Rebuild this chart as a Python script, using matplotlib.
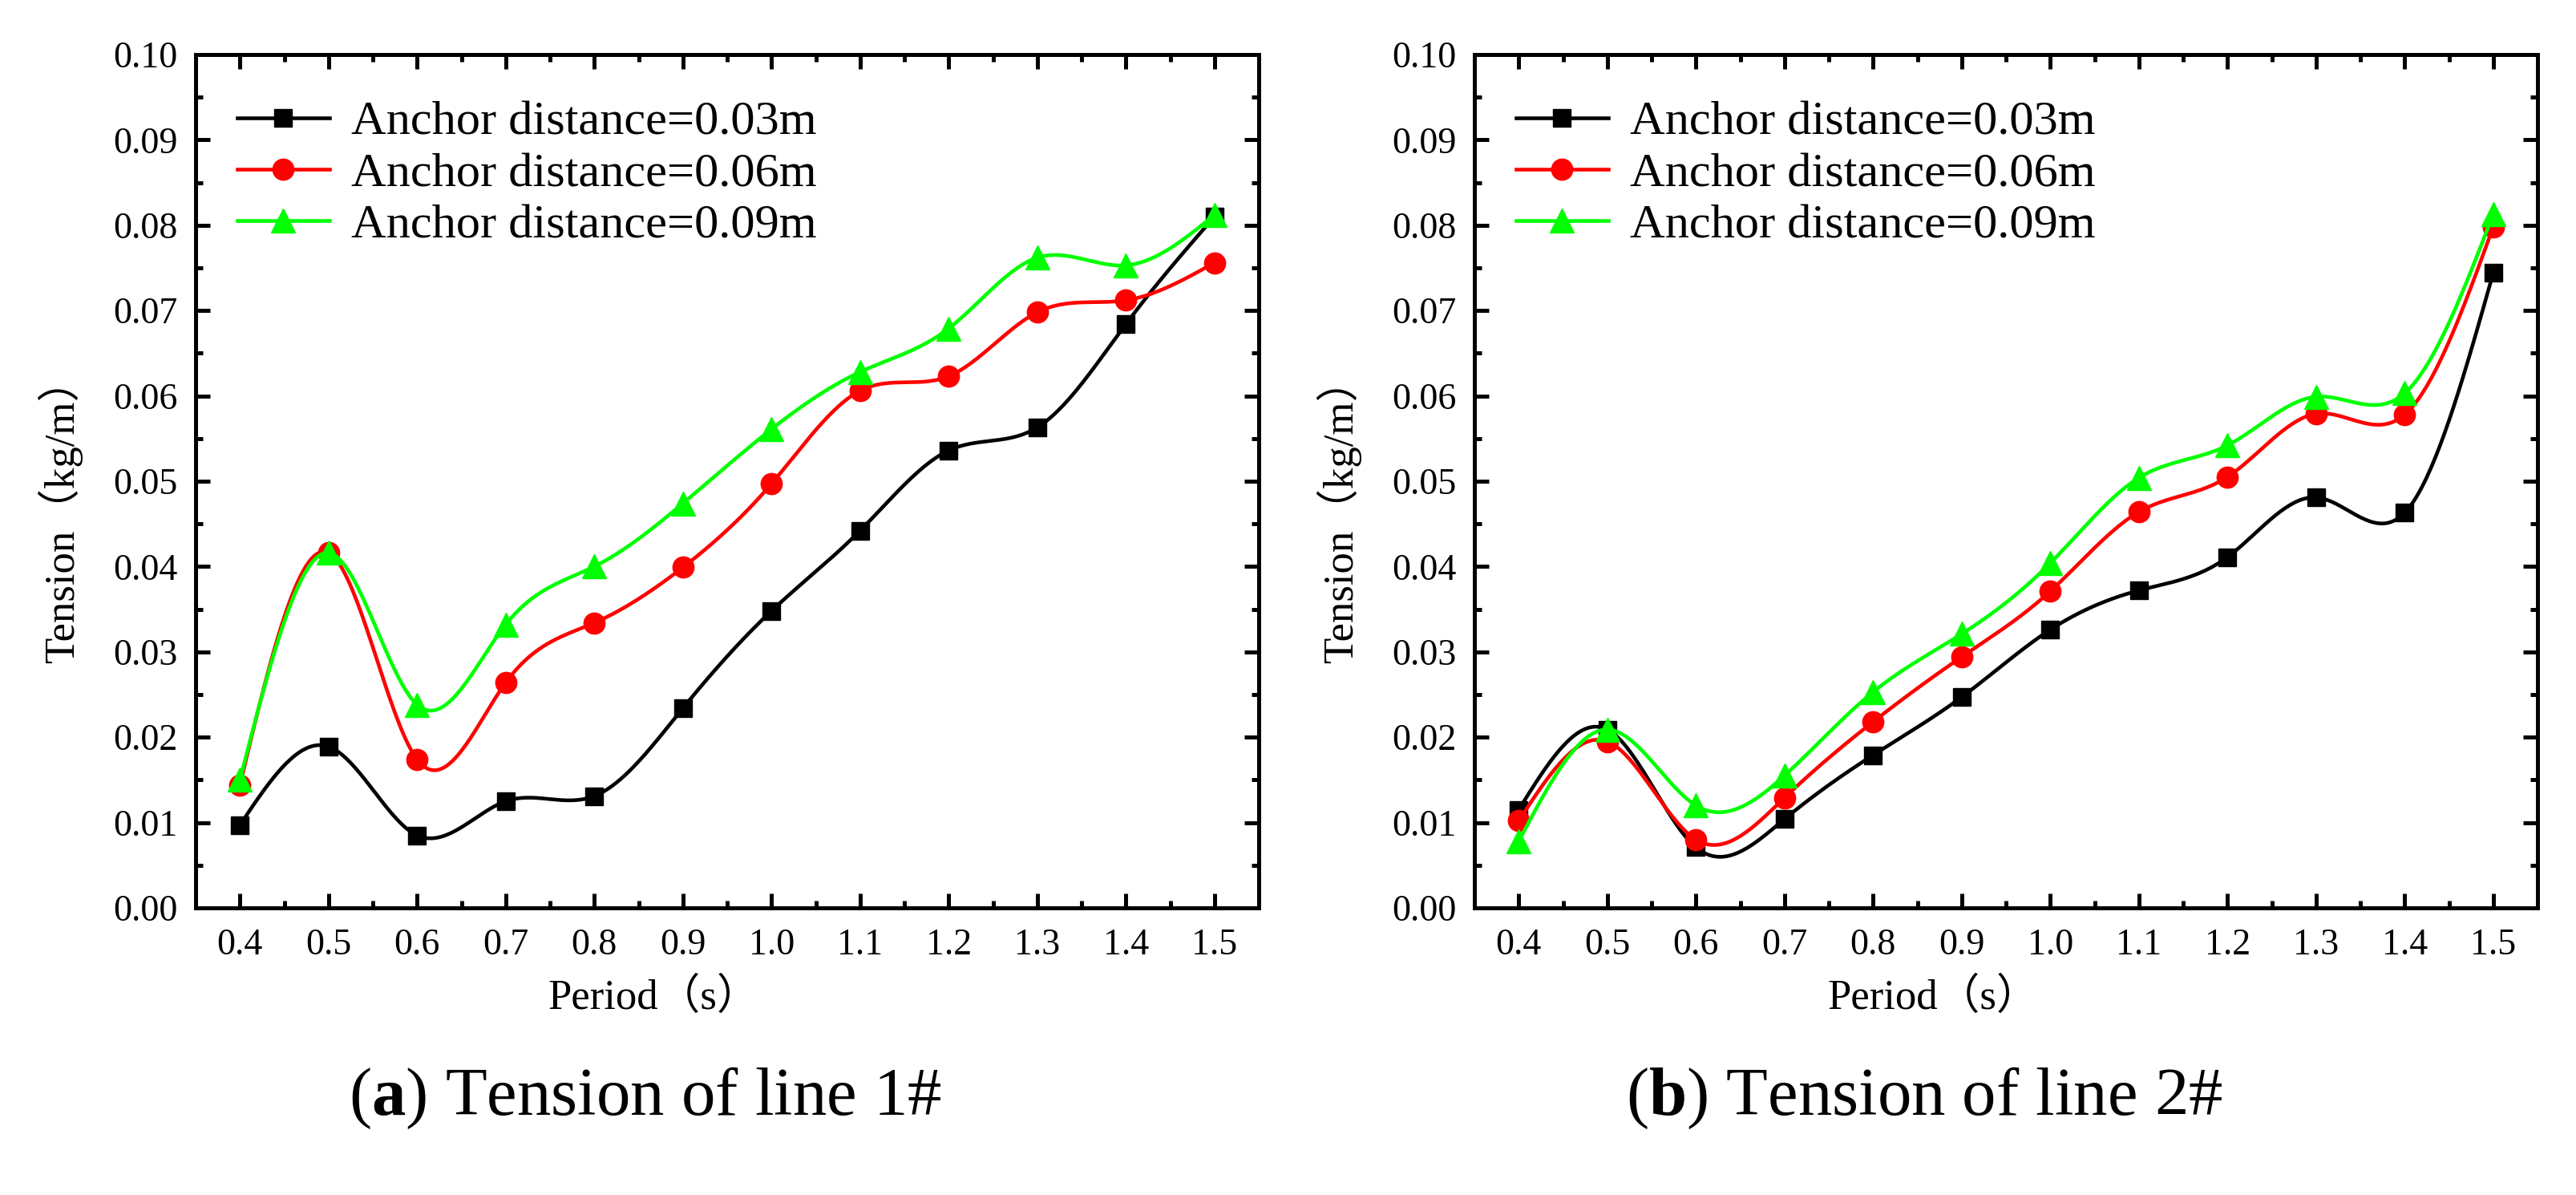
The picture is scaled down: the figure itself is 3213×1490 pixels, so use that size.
import numpy as np
import matplotlib
matplotlib.use("Agg")
import matplotlib.pyplot as plt
from matplotlib.ticker import MultipleLocator, FormatStrFormatter

# periods (s)
period = [0.4, 0.5, 0.6, 0.7, 0.8, 0.9, 1.0, 1.1, 1.2, 1.3, 1.4, 1.5]

# tension of line 1# (kg/m)
line1_d003 = [0.0097, 0.0189, 0.0085, 0.0125, 0.0131, 0.0234, 0.0348, 0.0442, 0.0536, 0.0563, 0.0684, 0.0810]
line1_d006 = [0.0144, 0.0416, 0.0174, 0.0264, 0.0334, 0.0399, 0.0497, 0.0606, 0.0623, 0.0698, 0.0712, 0.0756]
line1_d009 = [0.0150, 0.0416, 0.0238, 0.0332, 0.0400, 0.0474, 0.0561, 0.0628, 0.0679, 0.0762, 0.0753, 0.0812]

# tension of line 2# (kg/m)
line2_d003 = [0.0115, 0.0209, 0.0071, 0.0104, 0.0179, 0.0247, 0.0326, 0.0372, 0.0411, 0.0481, 0.0463, 0.0744]
line2_d006 = [0.0102, 0.0195, 0.0080, 0.0129, 0.0218, 0.0294, 0.0371, 0.0464, 0.0505, 0.0579, 0.0578, 0.0798]
line2_d009 = [0.0078, 0.0209, 0.0120, 0.0155, 0.0253, 0.0321, 0.0404, 0.0504, 0.0542, 0.0599, 0.0603, 0.0813]

labels = ["Anchor distance=0.03m", "Anchor distance=0.06m", "Anchor distance=0.09m"]
captions = ["(a)", "(b)"]
caption_text = ["Tension of line 1#", "Tension of line 2#"]

W, H = 3213, 1490
SERIF = ["Liberation Serif", "Noto Sans CJK SC"]

plt.rcParams["font.family"] = SERIF
plt.rcParams["mathtext.fontset"] = "custom"
plt.rcParams["mathtext.rm"] = "Liberation Serif"
plt.rcParams["mathtext.bf"] = "Liberation Serif:bold"


def spline_curve(x, y, n=40):
    """natural cubic spline through the points, only used to draw the smooth line"""
    x = np.asarray(x, float)
    y = np.asarray(y, float)
    m = len(x)
    h = np.diff(x)
    A = np.zeros((m, m))
    r = np.zeros(m)
    A[0, 0] = A[-1, -1] = 1.0
    for i in range(1, m - 1):
        A[i, i - 1] = h[i - 1]
        A[i, i] = 2 * (h[i - 1] + h[i])
        A[i, i + 1] = h[i]
        r[i] = 6 * ((y[i + 1] - y[i]) / h[i] - (y[i] - y[i - 1]) / h[i - 1])
    M = np.linalg.solve(A, r)
    xs, ys = [], []
    for i in range(m - 1):
        last = i == m - 2
        t = np.linspace(x[i], x[i + 1], n + (1 if last else 0), endpoint=last)
        a = x[i + 1] - t
        b = t - x[i]
        s = ((M[i] * a ** 3 + M[i + 1] * b ** 3) / (6 * h[i])
             + (y[i] / h[i] - M[i] * h[i] / 6) * a
             + (y[i + 1] / h[i] - M[i + 1] * h[i] / 6) * b)
        xs.append(t)
        ys.append(s)
    marks = [i * n for i in range(m)]
    return np.concatenate(xs), np.concatenate(ys), marks


fig = plt.figure(figsize=(W / 100, H / 100), dpi=100)

panels = [
    (244, [line1_d003, line1_d006, line1_d009], 815, 75, 805),
    (1839, [line2_d003, line2_d006, line2_d009], 2411, 1670, 2400),
]
styles = [("black", "s", 16), ("#ff0000", "o", 19), ("#00ff00", "^", 22)]

for k, (left, series, xlab_x, ylab_x, cap_x) in enumerate(panels):
    ax = fig.add_axes([left / W, (H - 1132) / H, 1326 / W, 1064 / H])
    for vals, label, (color, marker, ms) in zip(series, labels, styles):
        xs, ys, marks = spline_curve(period, vals)
        ax.plot(xs, ys, color=color, lw=3.3, marker=marker, markersize=ms,
                markevery=marks, label=label)

    ax.set_xlim(0.35, 1.55)
    ax.set_ylim(0.0, 0.10)
    ax.xaxis.set_major_locator(MultipleLocator(0.1))
    ax.xaxis.set_minor_locator(MultipleLocator(0.05))
    ax.yaxis.set_major_locator(MultipleLocator(0.01))
    ax.yaxis.set_minor_locator(MultipleLocator(0.005))
    ax.xaxis.set_major_formatter(FormatStrFormatter("%.1f"))
    ax.yaxis.set_major_formatter(FormatStrFormatter("%.2f"))
    ax.tick_params(which="both", direction="in", top=True, right=True, width=3.6,
                   labelsize=33)
    ax.tick_params(which="major", length=13)
    ax.tick_params(which="minor", length=6.5)
    ax.tick_params(axis="x", pad=18)
    ax.tick_params(axis="y", pad=16)
    for sp in ax.spines.values():
        sp.set_linewidth(3.6)

    ax.legend(loc="upper left", bbox_to_anchor=(0.039, 0.946), frameon=False,
              prop={"size": 43.5}, borderpad=0, borderaxespad=0,
              handlelength=1.9, handletextpad=0.45, labelspacing=0.15)

    fig.text(xlab_x / W, (H - 1244) / H, "Period（s）", fontsize=38,
             ha="center", va="center")
    fig.text(ylab_x / W, (H - 637) / H, "Tension（kg/m）", fontsize=38,
             ha="center", va="center", rotation=90)
    fig.text(cap_x / W, (H - 1390) / H,
             r"($\mathbf{%s}$) %s" % (captions[k][1], caption_text[k]),
             fontsize=61, ha="center", va="baseline")

fig.savefig("out.png", dpi=100)
